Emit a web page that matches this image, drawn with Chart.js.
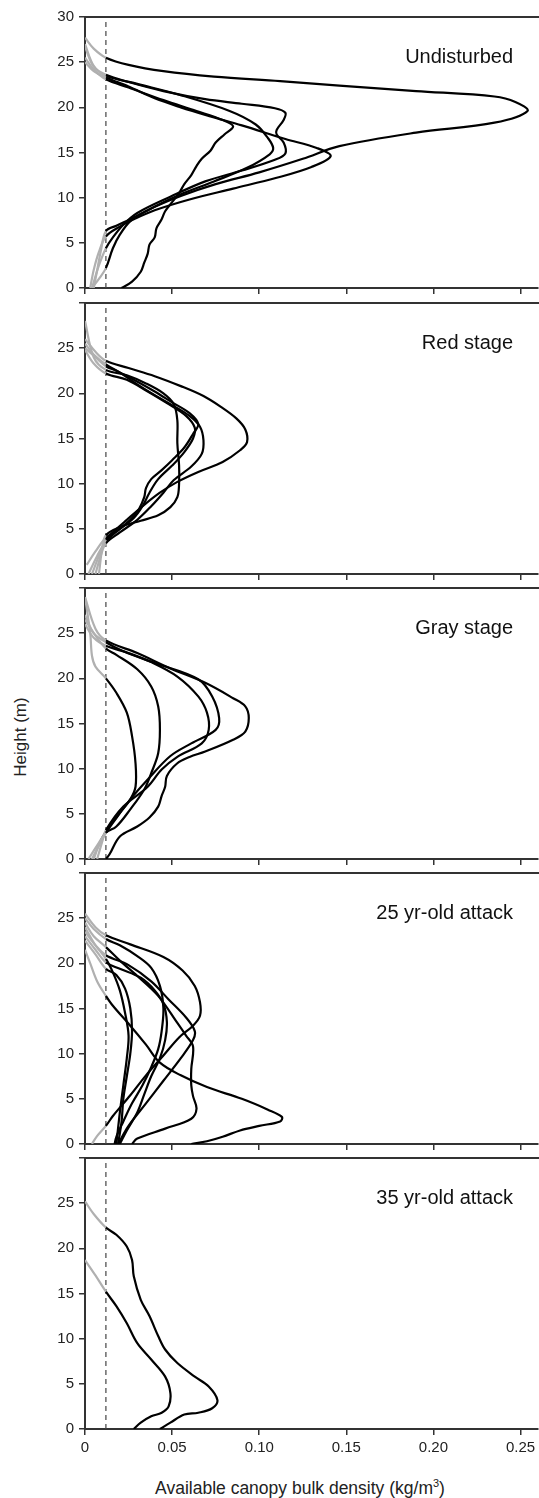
<!DOCTYPE html>
<html>
<head>
<meta charset="utf-8">
<script src="https://cdn.jsdelivr.net/npm/chart.js@4.4.0/dist/chart.umd.min.js"></script>
<style>
  body { margin: 0; background: #fff; width: 539px; height: 1498px; position: relative; overflow: hidden;
         font-family: "Liberation Sans", Arial, sans-serif; }
  canvas { position: absolute; left: 0; }
  .ytitle { position: absolute; left: 21px; top: 737px; transform: translate(-50%, -50%) rotate(-90deg);
            font-size: 17px; color: #222; white-space: nowrap; }
  .xtitle { position: absolute; left: 300px; top: 1488px; transform: translate(-50%, -50%);
            font-size: 17.5px; color: #222; white-space: nowrap; }
</style>
</head>
<body>
<div class="ytitle">Height (m)</div>
<div class="xtitle">Available canopy bulk density (kg/m<sup style="font-size:11px">3</sup>)</div>
<script>
// stand profiles: each curve is a list of [density, height] pairs

const panelNames = ['Undisturbed', 'Red stage', 'Gray stage', '25 yr-old attack', '35 yr-old attack'];
const thresholdX = 0.012;
const xTicks = [0, 0.05, 0.10, 0.15, 0.20, 0.25];
const yTicks = [0, 5, 10, 15, 20, 25, 30];

const undisturbed = [
  [[0.005,0],[0.007,2],[0.009,4],[0.012,6.3],[0.018,6.9],[0.027,7.7],[0.04,9],[0.055,10.2],[0.075,11.5],[0.1,12.8],[0.125,14.3],[0.146,15.7],[0.19,17.2],[0.235,18.3],[0.254,19.6],[0.247,20.6],[0.235,21.2],[0.19,21.8],[0.146,22.4],[0.112,22.9],[0.074,23.4],[0.045,24],[0.025,24.7],[0.012,25.5],[0.005,26.5],[0,27.7]],
  [[0.003,0],[0.005,2],[0.008,4],[0.012,5.7],[0.02,6.8],[0.028,7.6],[0.04,8.6],[0.06,9.8],[0.085,11],[0.11,12.2],[0.13,13.4],[0.141,14.6],[0.133,15.5],[0.115,16.5],[0.09,18],[0.072,19],[0.055,20],[0.04,21],[0.025,22.3],[0.012,23.3],[0.005,24],[0,25]],
  [[0.004,0],[0.008,2.5],[0.012,4.4],[0.016,5.6],[0.022,7],[0.03,8.3],[0.049,10.1],[0.069,11.8],[0.09,13],[0.109,14.2],[0.115,14.9],[0.114,16.1],[0.11,17],[0.11,17.5],[0.114,18.6],[0.115,19.4],[0.109,19.9],[0.09,20.4],[0.069,20.9],[0.045,21.8],[0.025,22.8],[0.012,23.6],[0.005,24.5],[0,26.7]],
  [[0.004,0],[0.008,1],[0.012,2.2],[0.016,4.4],[0.02,5.9],[0.026,7.4],[0.035,8.5],[0.054,10.3],[0.074,11.8],[0.093,13.3],[0.106,14.8],[0.108,15.5],[0.105,16.6],[0.098,18.1],[0.083,19.6],[0.054,21.4],[0.03,22.6],[0.012,23.5],[0.005,24.6],[0,27]],
  [[0.021,0],[0.027,0.7],[0.032,1.8],[0.034,2.8],[0.036,3.8],[0.037,4.8],[0.04,5.6],[0.041,6.6],[0.044,7.6],[0.046,8.5],[0.05,9.5],[0.054,10.5],[0.057,11.5],[0.061,12.5],[0.064,13.5],[0.067,14.3],[0.072,15.2],[0.075,16.1],[0.08,17],[0.085,17.9],[0.079,18.6],[0.064,19.6],[0.045,20.8],[0.025,22.2],[0.012,23.1],[0.005,24.2],[0,25.5]]
];

const redStage = [
  [[0.004,0],[0.008,2],[0.012,3.8],[0.017,4.8],[0.024,6],[0.033,7.5],[0.043,9],[0.053,10.2],[0.065,11.3],[0.079,12.4],[0.089,13.7],[0.093,14.6],[0.092,16],[0.087,17.2],[0.078,18.5],[0.068,19.7],[0.055,20.8],[0.04,21.9],[0.025,22.8],[0.012,23.6],[0.006,24.6],[0,26]],
  [[0.006,0],[0.009,2],[0.012,3.4],[0.02,4.6],[0.03,6],[0.038,7.5],[0.045,9],[0.051,10.4],[0.061,11.9],[0.067,13.3],[0.068,14.8],[0.066,16.3],[0.06,17.5],[0.05,18.7],[0.04,19.8],[0.03,21],[0.02,22.3],[0.012,23.2],[0.005,24.3],[0,25.5]],
  [[0.002,0],[0.007,2],[0.012,3.6],[0.02,5],[0.026,6],[0.031,7.2],[0.034,8.5],[0.035,9.5],[0.038,10.5],[0.044,11.5],[0.05,12.6],[0.057,14],[0.062,15.5],[0.065,16.6],[0.06,17.8],[0.05,19],[0.04,20.2],[0.028,21.5],[0.018,22.5],[0.012,23],[0.006,24],[0,25]],
  [[0.008,0],[0.01,3],[0.012,4.3],[0.02,5.2],[0.032,5.9],[0.042,6.5],[0.049,7.4],[0.053,8.5],[0.054,10],[0.054,12],[0.053,14.5],[0.053,17],[0.051,18.8],[0.045,20],[0.035,21.1],[0.024,22],[0.012,22.6],[0.005,24],[0,28]],
  [[0.001,1],[0.006,2.5],[0.012,4],[0.02,5],[0.028,6.2],[0.033,7.5],[0.037,9],[0.042,10.5],[0.05,12],[0.057,13.5],[0.062,15],[0.063,16.2],[0.058,17.5],[0.048,18.8],[0.036,20.2],[0.024,21.5],[0.012,22.2],[0.005,23.3],[0,24.8]]
];

const grayStage = [
  [[0.012,0],[0.014,0.5],[0.02,2.5],[0.03,3.6],[0.037,4.6],[0.042,5.8],[0.044,7],[0.046,8],[0.047,9.2],[0.053,10.6],[0.06,11.3],[0.069,11.9],[0.085,13.2],[0.092,14.1],[0.094,15.6],[0.092,16.9],[0.085,17.8],[0.069,19.5],[0.049,21.1],[0.03,22.8],[0.012,24.2],[0.006,25.5],[0,29]],
  [[0.004,0],[0.008,1.5],[0.012,2.9],[0.016,4],[0.026,6.6],[0.036,8.8],[0.049,11.4],[0.061,12.8],[0.075,14.3],[0.077,15.6],[0.073,18],[0.065,19.9],[0.04,21.7],[0.022,23],[0.012,24],[0.005,25],[0,27]],
  [[0.007,0],[0.01,2],[0.012,3.2],[0.022,5.8],[0.036,8],[0.044,9.9],[0.053,11.3],[0.067,12.8],[0.071,14.3],[0.07,16.2],[0.065,18],[0.053,20.2],[0.038,21.8],[0.025,22.8],[0.012,23.6],[0.005,24.5],[0,26]],
  [[0.002,0],[0.007,1.5],[0.012,2.9],[0.018,3.6],[0.026,5.5],[0.034,7.7],[0.038,9.5],[0.042,11.7],[0.043,14.3],[0.042,16.9],[0.038,19.1],[0.03,21],[0.018,22.6],[0.012,23.3],[0.005,25],[0,26.5]],
  [[0.005,0],[0.009,2],[0.014,3.6],[0.02,5.1],[0.026,6.6],[0.029,8],[0.029,10.6],[0.027,13.6],[0.024,16.2],[0.018,18.4],[0.012,20],[0.006,21.3],[0.004,22.5],[0.003,25],[0,29]]
];

const attack25 = [
  [[0.061,0],[0.07,0.3],[0.079,0.8],[0.089,1.5],[0.1,2],[0.112,2.5],[0.113,3],[0.105,3.8],[0.09,5],[0.07,6.3],[0.055,7.6],[0.043,9],[0.035,11],[0.026,13.1],[0.016,15.3],[0.012,16.4],[0.007,18],[0.003,20],[0,21.5]],
  [[0.004,0],[0.007,0.9],[0.012,2],[0.016,3.1],[0.026,5.4],[0.035,7.6],[0.045,9.8],[0.054,11.8],[0.062,13.1],[0.066,14.2],[0.066,15.7],[0.063,17.5],[0.056,19.2],[0.045,20.7],[0.026,22.1],[0.012,23.1],[0.006,24],[0,25.5]],
  [[0.027,0],[0.03,0.6],[0.046,1.7],[0.061,2.8],[0.064,3.9],[0.062,5.3],[0.061,6.5],[0.061,8.3],[0.062,10.8],[0.058,12],[0.053,13.4],[0.042,16.4],[0.03,18.6],[0.02,20.3],[0.012,21.8],[0.005,23],[0,24.5]],
  [[0.017,0],[0.018,0.8],[0.022,2.5],[0.027,4.5],[0.033,6.5],[0.038,8.5],[0.042,10.5],[0.044,12.5],[0.045,15],[0.043,17.5],[0.038,19.5],[0.03,20.8],[0.02,22],[0.012,22.7],[0.005,23.8],[0,25]],
  [[0.02,0],[0.024,1.5],[0.03,3.5],[0.034,5.5],[0.038,7.5],[0.043,9.5],[0.046,11.5],[0.047,13.5],[0.045,15.5],[0.04,17],[0.032,18.4],[0.02,19.4],[0.012,20.1],[0.006,21.5],[0,23]],
  [[0.019,0],[0.021,2.5],[0.022,5],[0.024,7.5],[0.026,10],[0.027,12.5],[0.026,15],[0.023,17.2],[0.018,18.7],[0.012,19.4],[0.006,21],[0,22.5]],
  [[0.018,0],[0.02,3.5],[0.022,6.5],[0.024,9.5],[0.025,12],[0.023,14.5],[0.02,17],[0.016,19],[0.012,20.5],[0.006,22],[0,24]],
  [[0.019,0],[0.025,2],[0.035,4.5],[0.045,7],[0.055,9.5],[0.062,11.5],[0.063,12.5],[0.058,14],[0.048,16],[0.038,18],[0.025,19.8],[0.012,20.9],[0.006,22],[0,23.5]]
];

const attack35 = [
  [[0.043,0],[0.049,0.7],[0.057,1.6],[0.065,1.8],[0.073,2.3],[0.076,3.2],[0.071,4.7],[0.063,5.8],[0.053,7.3],[0.046,8.8],[0.042,10.3],[0.037,12.5],[0.032,14.3],[0.028,16.9],[0.027,18.7],[0.024,20.2],[0.018,21.5],[0.012,22.3],[0.005,23.8],[0,25.2]],
  [[0.028,0],[0.032,0.7],[0.038,1.4],[0.044,1.8],[0.048,2.5],[0.049,4],[0.046,5.8],[0.038,7.7],[0.03,9.5],[0.024,11.7],[0.018,13.6],[0.012,15.2],[0.006,17],[0,18.7]]
];

const panelCurves = [undisturbed, redStage, grayStage, attack25, attack35];

const panelTops = [17, 303, 588, 873, 1158];
const plotH = 271;
const padTop = 10;
const fontFamily = '"Liberation Sans", Arial, sans-serif';

Chart.defaults.font.family = fontFamily;

// panel name in the upper right corner plus the top edge of the frame
const panelFrame = {
  id: 'panelFrame',
  afterDraw(chart, args, opts) {
    const { ctx, chartArea } = chart;
    ctx.save();
    ctx.strokeStyle = '#333';
    ctx.lineWidth = 2;
    ctx.beginPath();
    ctx.moveTo(chartArea.left - 1, chartArea.top);
    ctx.lineTo(chartArea.right + 1, chartArea.top);
    ctx.stroke();
    ctx.font = '20px ' + fontFamily;
    ctx.fillStyle = '#111';
    ctx.textAlign = 'right';
    ctx.textBaseline = 'middle';
    ctx.fillText(opts.text, chartArea.right - 25, chartArea.top + 40);
    ctx.restore();
  }
};

function makePanel(i) {
  const last = i === panelNames.length - 1;
  const canvas = document.createElement('canvas');
  canvas.width = 539;
  canvas.height = padTop + plotH + (last ? 32 : 8);
  canvas.style.top = (panelTops[i] - padTop) + 'px';
  document.body.appendChild(canvas);

  const datasets = panelCurves[i].map(c => ({
    data: c.map(p => ({ x: p[0], y: p[1] })),
    showLine: true,
    borderColor: '#000',
    borderWidth: 2.2,
    pointRadius: 0,
    tension: 0.35,
    segment: {
      borderColor: s => Math.max(s.p0.parsed.x, s.p1.parsed.x) <= thresholdX + 0.0005 ? '#b0b0b0' : '#000'
    }
  }));
  datasets.push({
    data: [{ x: thresholdX, y: yTicks[0] }, { x: thresholdX, y: yTicks[yTicks.length - 1] }],
    showLine: true,
    borderColor: '#444',
    borderWidth: 1.2,
    borderDash: [5, 4],
    pointRadius: 0
  });

  new Chart(canvas, {
    type: 'scatter',
    data: { datasets },
    options: {
      responsive: false,
      animation: false,
      layout: { padding: { top: padTop, right: 1, left: 0, bottom: 0 } },
      plugins: {
        legend: { display: false },
        tooltip: { enabled: false },
        panelFrame: { text: panelNames[i] }
      },
      scales: {
        x: {
          type: 'linear', position: 'bottom', min: 0, max: 0.26,
          afterFit: s => {
            s.height = last ? 32 : 8;
            s.paddingLeft = 0; s.paddingRight = 0;
          },
          afterBuildTicks: s => { s.ticks = xTicks.map(v => ({ value: v })); },
          ticks: {
            display: last, padding: 4, color: '#222', font: { size: 15 },
            maxRotation: 0, autoSkip: false,
            callback: v => v === 0 ? '0' : v.toFixed(2)
          },
          grid: { drawOnChartArea: false, tickLength: 6, color: '#333', lineWidth: 1.5 },
          border: { color: '#333', width: 2 }
        },
        y: {
          min: 0, max: 30,
          afterFit: s => {
            s.width = 85;
            s.paddingTop = 0; s.paddingBottom = 0;
          },
          afterBuildTicks: s => { s.ticks = yTicks.map(v => ({ value: v })); },
          ticks: {
            padding: 5, color: '#222', font: { size: 15 },
            callback: v => (v === 30 && i > 0) ? '' : String(v)
          },
          grid: { drawOnChartArea: false, tickLength: 6, color: '#333', lineWidth: 1.5 },
          border: { color: '#333', width: 2 }
        }
      }
    },
    plugins: [panelFrame]
  });
}

panelNames.forEach((n, i) => makePanel(i));
</script>
</body>
</html>
